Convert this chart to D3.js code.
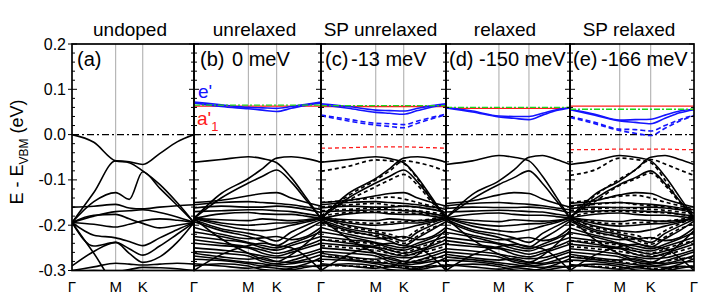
<!DOCTYPE html>
<html><head><meta charset="utf-8">
<script src="https://cdn.jsdelivr.net/npm/d3@7"></script>
<style>body{margin:0;background:#fff}svg{font-family:"Liberation Sans",Arial,sans-serif}</style>
</head><body><svg id="c" width="709" height="296"></svg>
<script>
// ---------------- data ----------------
const panelTitles = ["undoped","unrelaxed","SP unrelaxed","relaxed","SP relaxed"];
const panelTags = ["(a)","(b)","(c)","(d)","(e)"];
const panelShifts = ["","0 meV","-13 meV","-150 meV","-166 meV"];
const kLabels = ["Γ","M","K","Γ"];
const kPosM = [0.358,0.428,0.438,0.427,0.401];   // fractional position of M along each k-path
const kPosK = [0.580,0.651,0.662,0.669,0.651];   // fractional position of K
const kSamples = [0,0.5,1,1.5,2,2.33,2.67,3];   // Γ=0, M=1, K=2, Γ=3
const yTicks = [0.2,0.1,0.0,-0.1,-0.2,-0.3];

const bandsA = [
 [0.000,-0.017,-0.058,-0.062,-0.080,-0.110,-0.150,-0.194],
 [-0.194,-0.128,-0.058,-0.060,-0.066,-0.042,-0.016,0.000],
 [-0.194,-0.148,-0.128,-0.143,-0.082,-0.118,-0.156,-0.194],
 [-0.160,-0.158,-0.154,-0.162,-0.164,-0.160,-0.157,-0.155],
 [-0.194,-0.180,-0.170,-0.168,-0.166,-0.172,-0.182,-0.194],
 [-0.194,-0.178,-0.176,-0.186,-0.196,-0.206,-0.200,-0.194],
 [-0.194,-0.198,-0.204,-0.198,-0.190,-0.186,-0.189,-0.194],
 [-0.194,-0.222,-0.228,-0.236,-0.245,-0.228,-0.210,-0.194],
 [-0.194,-0.246,-0.238,-0.252,-0.266,-0.246,-0.220,-0.194],
 [-0.194,-0.262,-0.330,-0.340,-0.340,-0.330,-0.310,-0.300],
 [-0.290,-0.258,-0.238,-0.262,-0.282,-0.270,-0.238,-0.194],
 [-0.300,-0.292,-0.284,-0.286,-0.288,-0.286,-0.284,-0.286],
 [-0.306,-0.300,-0.302,-0.298,-0.293,-0.294,-0.296,-0.300]
];
const bandsUnrelaxed = [
 [-0.061,-0.055,-0.049,-0.053,-0.062,-0.095,-0.140,-0.185],
 [-0.185,-0.130,-0.097,-0.075,-0.052,-0.049,-0.053,-0.061],
 [-0.185,-0.140,-0.107,-0.092,-0.078,-0.105,-0.145,-0.185],
 [-0.150,-0.145,-0.135,-0.130,-0.128,-0.140,-0.150,-0.158],
 [-0.155,-0.150,-0.148,-0.150,-0.152,-0.155,-0.160,-0.165],
 [-0.162,-0.158,-0.160,-0.160,-0.158,-0.160,-0.165,-0.172],
 [-0.170,-0.168,-0.166,-0.166,-0.168,-0.170,-0.175,-0.180],
 [-0.185,-0.175,-0.172,-0.175,-0.176,-0.176,-0.180,-0.185],
 [-0.185,-0.188,-0.190,-0.186,-0.188,-0.190,-0.188,-0.185],
 [-0.185,-0.195,-0.200,-0.198,-0.195,-0.195,-0.190,-0.185],
 [-0.185,-0.200,-0.210,-0.212,-0.208,-0.200,-0.193,-0.185],
 [-0.188,-0.208,-0.218,-0.225,-0.235,-0.215,-0.200,-0.188],
 [-0.192,-0.212,-0.225,-0.235,-0.245,-0.228,-0.210,-0.192],
 [-0.205,-0.220,-0.230,-0.228,-0.225,-0.232,-0.225,-0.205],
 [-0.215,-0.225,-0.238,-0.245,-0.250,-0.240,-0.228,-0.215],
 [-0.225,-0.232,-0.240,-0.250,-0.255,-0.245,-0.235,-0.225],
 [-0.232,-0.240,-0.248,-0.255,-0.262,-0.255,-0.245,-0.232],
 [-0.240,-0.245,-0.250,-0.262,-0.268,-0.260,-0.250,-0.240],
 [-0.250,-0.255,-0.262,-0.268,-0.272,-0.270,-0.262,-0.252],
 [-0.258,-0.262,-0.268,-0.280,-0.285,-0.278,-0.268,-0.258],
 [-0.262,-0.270,-0.275,-0.272,-0.280,-0.282,-0.275,-0.265],
 [-0.268,-0.275,-0.282,-0.285,-0.290,-0.292,-0.285,-0.272],
 [-0.275,-0.278,-0.285,-0.290,-0.288,-0.285,-0.280,-0.278],
 [-0.285,-0.290,-0.295,-0.292,-0.295,-0.298,-0.293,-0.288],
 [-0.290,-0.285,-0.290,-0.298,-0.300,-0.295,-0.290,-0.292],
 [-0.185,-0.230,-0.262,-0.275,-0.280,-0.265,-0.240,-0.210],
 [-0.300,-0.265,-0.245,-0.240,-0.245,-0.250,-0.270,-0.300]
];
const bandsRelaxed = [
 [-0.066,-0.058,-0.046,-0.050,-0.058,-0.092,-0.138,-0.184],
 [-0.184,-0.132,-0.102,-0.078,-0.050,-0.046,-0.055,-0.066],
 [-0.184,-0.142,-0.110,-0.095,-0.080,-0.108,-0.146,-0.184],
 [-0.152,-0.146,-0.133,-0.128,-0.130,-0.142,-0.152,-0.160],
 [-0.157,-0.152,-0.150,-0.152,-0.154,-0.157,-0.162,-0.166],
 [-0.163,-0.160,-0.161,-0.161,-0.160,-0.162,-0.166,-0.173],
 [-0.171,-0.169,-0.167,-0.168,-0.170,-0.171,-0.176,-0.180],
 [-0.184,-0.176,-0.173,-0.176,-0.178,-0.178,-0.181,-0.184],
 [-0.184,-0.189,-0.192,-0.188,-0.190,-0.191,-0.189,-0.184],
 [-0.184,-0.196,-0.202,-0.200,-0.197,-0.196,-0.191,-0.184],
 [-0.184,-0.202,-0.212,-0.215,-0.210,-0.202,-0.194,-0.184],
 [-0.187,-0.210,-0.220,-0.228,-0.238,-0.218,-0.202,-0.187],
 [-0.191,-0.214,-0.227,-0.238,-0.248,-0.230,-0.212,-0.191],
 [-0.206,-0.222,-0.232,-0.230,-0.227,-0.234,-0.227,-0.206],
 [-0.216,-0.226,-0.240,-0.246,-0.252,-0.242,-0.230,-0.216],
 [-0.227,-0.234,-0.242,-0.252,-0.257,-0.247,-0.237,-0.227],
 [-0.234,-0.242,-0.250,-0.257,-0.264,-0.257,-0.247,-0.234],
 [-0.242,-0.247,-0.252,-0.264,-0.270,-0.262,-0.252,-0.242],
 [-0.252,-0.257,-0.264,-0.270,-0.274,-0.272,-0.264,-0.254],
 [-0.259,-0.264,-0.270,-0.281,-0.286,-0.279,-0.269,-0.259],
 [-0.264,-0.272,-0.277,-0.274,-0.282,-0.284,-0.277,-0.267],
 [-0.270,-0.276,-0.283,-0.287,-0.291,-0.293,-0.286,-0.274],
 [-0.277,-0.280,-0.287,-0.292,-0.290,-0.287,-0.282,-0.280],
 [-0.287,-0.292,-0.297,-0.294,-0.297,-0.300,-0.295,-0.290],
 [-0.291,-0.286,-0.291,-0.299,-0.301,-0.296,-0.291,-0.293],
 [-0.184,-0.232,-0.264,-0.277,-0.282,-0.267,-0.242,-0.212],
 [-0.300,-0.266,-0.247,-0.242,-0.247,-0.252,-0.272,-0.300]
];
const dashedSPUnrelaxed = [
 [-0.081,-0.070,-0.056,-0.058,-0.064,-0.098,-0.145,-0.180],
 [-0.180,-0.135,-0.100,-0.080,-0.058,-0.062,-0.070,-0.081],
 [-0.180,-0.145,-0.115,-0.100,-0.088,-0.112,-0.150,-0.180],
 [-0.150,-0.145,-0.140,-0.138,-0.142,-0.150,-0.158,-0.165],
 [-0.160,-0.155,-0.152,-0.156,-0.158,-0.160,-0.165,-0.170],
 [-0.168,-0.165,-0.162,-0.165,-0.166,-0.168,-0.172,-0.176],
 [-0.180,-0.172,-0.170,-0.172,-0.172,-0.174,-0.176,-0.180],
 [-0.180,-0.192,-0.196,-0.194,-0.192,-0.190,-0.186,-0.180],
 [-0.182,-0.203,-0.214,-0.220,-0.228,-0.210,-0.195,-0.182],
 [-0.195,-0.215,-0.222,-0.230,-0.240,-0.224,-0.206,-0.195],
 [-0.232,-0.236,-0.243,-0.255,-0.260,-0.250,-0.240,-0.232],
 [-0.245,-0.250,-0.256,-0.262,-0.266,-0.263,-0.255,-0.246],
 [-0.268,-0.272,-0.278,-0.283,-0.282,-0.278,-0.272,-0.270],
 [-0.288,-0.290,-0.292,-0.290,-0.293,-0.295,-0.290,-0.288]
];
const dashedSPRelaxed = [
 [-0.090,-0.078,-0.052,-0.055,-0.062,-0.100,-0.148,-0.182],
 [-0.182,-0.135,-0.098,-0.078,-0.055,-0.065,-0.078,-0.090],
 [-0.182,-0.148,-0.112,-0.098,-0.085,-0.112,-0.150,-0.182],
 [-0.150,-0.144,-0.136,-0.134,-0.140,-0.149,-0.157,-0.164],
 [-0.159,-0.154,-0.150,-0.154,-0.157,-0.159,-0.164,-0.170],
 [-0.167,-0.164,-0.161,-0.163,-0.165,-0.167,-0.171,-0.176],
 [-0.182,-0.171,-0.169,-0.171,-0.171,-0.173,-0.176,-0.182],
 [-0.182,-0.193,-0.197,-0.195,-0.193,-0.191,-0.187,-0.182],
 [-0.184,-0.205,-0.216,-0.222,-0.230,-0.212,-0.197,-0.184],
 [-0.197,-0.217,-0.224,-0.232,-0.242,-0.226,-0.208,-0.197],
 [-0.234,-0.238,-0.245,-0.257,-0.262,-0.252,-0.242,-0.234],
 [-0.247,-0.252,-0.258,-0.264,-0.268,-0.265,-0.257,-0.248],
 [-0.270,-0.274,-0.280,-0.285,-0.284,-0.280,-0.274,-0.272],
 [-0.289,-0.291,-0.294,-0.292,-0.295,-0.297,-0.292,-0.290]
];
// e' (blue) and a'1 (red) defect levels, panels b..e
const blueSolidB = [[0.072,0.066,0.060,0.059,0.058,0.062,0.067,0.072],[0.070,0.062,0.057,0.054,0.051,0.058,0.065,0.070]];
const blueSolidC = [[0.068,0.062,0.054,0.053,0.052,0.058,0.064,0.068],[0.066,0.058,0.049,0.047,0.045,0.053,0.061,0.066]];
const blueSolidD = [[0.060,0.052,0.041,0.040,0.040,0.047,0.055,0.060],[0.059,0.050,0.039,0.036,0.033,0.043,0.053,0.059]];
const blueSolidE = [[0.056,0.045,0.032,0.033,0.034,0.043,0.052,0.056],[0.055,0.043,0.030,0.027,0.024,0.036,0.048,0.055]];
const blueDashedC = [[0.043,0.034,0.025,0.024,0.022,0.030,0.038,0.045],[0.042,0.030,0.021,0.018,0.015,0.025,0.035,0.044]];
const blueDashedE = [[0.040,0.027,0.012,0.011,0.008,0.020,0.033,0.043],[0.038,0.024,0.009,0.003,-0.002,0.014,0.030,0.042]];
const redSolidLevel = [0.063,0.062,0.058,0.063];   // panels b..e
const greenLevel = [0.065,0.064,0.060,0.056];      // panels b..e
const redDashedC = [-0.030,-0.029,-0.027,-0.027,-0.027,-0.028,-0.029,-0.030];
const redDashedE = [-0.033,-0.033,-0.032,-0.032,-0.032,-0.032,-0.033,-0.033];

// ---------------- drawing ----------------
const svg = d3.select("#c");
const edges = [72,194,321,446,570,694];
const tagDx = [5,6,4,3,3], shiftDx = [0,38,30,33,31];
const yTop = 44, yBot = 270.5;
const y = d3.scaleLinear().domain([-0.3,0.2]).range([yBot, yTop]);
const BLUE = "#1414ff", RED = "#ff1a1a", GREEN = "#1ed41e";

const solidSets = [bandsA, bandsUnrelaxed, bandsUnrelaxed, bandsRelaxed, bandsRelaxed];
const dashedSets = [null, null, dashedSPUnrelaxed, null, dashedSPRelaxed];
const blueSolidSets = [null, blueSolidB, blueSolidC, blueSolidD, blueSolidE];
const blueDashedSets = [null, null, blueDashedC, null, blueDashedE];
const redDashedSets = [null, null, redDashedC, null, redDashedE];

const defs = svg.append("defs");

for (let p = 0; p < 5; p++) {
  const x0 = edges[p], x1 = edges[p+1], w = x1 - x0;
  const x = d3.scaleLinear().domain([0,1,2,3]).range([x0, x0 + w*kPosM[p], x0 + w*kPosK[p], x1]);
  const g = svg.append("g");
  defs.append("clipPath").attr("id","clip"+p).append("rect")
    .attr("x",x0).attr("y",yTop).attr("width",w).attr("height",yBot-yTop);
  const plot = g.append("g").attr("clip-path",`url(#clip${p})`);

  [1,2].forEach(k => plot.append("line").attr("x1",x(k)).attr("x2",x(k)).attr("y1",yTop).attr("y2",yBot)
      .attr("stroke","#a8a8a8").attr("stroke-width",1));

  const line = d3.line().x((d,i)=>x(kSamples[i])).y(d=>y(d)).curve(d3.curveMonotoneX);
  const flat = v => kSamples.map(()=>v);

  plot.append("line").attr("x1",x0).attr("x2",x1).attr("y1",y(0)).attr("y2",y(0))
    .attr("stroke","#000").attr("stroke-width",1.2).attr("stroke-dasharray","7,3,2,3");

  if (dashedSets[p]) plot.selectAll(null).data(dashedSets[p]).join("path")
    .attr("d",line).attr("fill","none").attr("stroke","#000").attr("stroke-width",1.7).attr("stroke-dasharray","4,3");
  plot.selectAll(null).data(solidSets[p]).join("path")
    .attr("d",line).attr("fill","none").attr("stroke","#000").attr("stroke-width",1.6);

  if (p > 0) {
    if (redDashedSets[p]) plot.append("path").attr("d",line(redDashedSets[p])).attr("fill","none")
      .attr("stroke",RED).attr("stroke-width",1.3).attr("stroke-dasharray","4,3");
    if (blueDashedSets[p]) plot.selectAll(null).data(blueDashedSets[p]).join("path").attr("d",line)
      .attr("fill","none").attr("stroke",BLUE).attr("stroke-width",1.6).attr("stroke-dasharray","5,3");
    plot.append("path").attr("d",line(flat(redSolidLevel[p-1]))).attr("fill","none").attr("stroke",RED).attr("stroke-width",1.3);
    plot.selectAll(null).data(blueSolidSets[p]).join("path").attr("d",line)
      .attr("fill","none").attr("stroke",BLUE).attr("stroke-width",1.6);
    plot.append("path").attr("d",line(flat(greenLevel[p-1]))).attr("fill","none").attr("stroke",GREEN)
      .attr("stroke-width",1.3).attr("stroke-dasharray","6,2,2,2");
  }

  g.append("rect").attr("x",x0).attr("y",yTop).attr("width",w).attr("height",yBot-yTop)
    .attr("fill","none").attr("stroke","#000").attr("stroke-width",1.7);

  const minor = d3.range(-0.3,0.2001,0.02);
  minor.forEach(v => {
    const major = Math.abs(Math.round(v*10) - v*10) < 1e-6;
    const len = major ? 5 : 3;
    g.append("line").attr("x1",x0).attr("x2",x0+len).attr("y1",y(v)).attr("y2",y(v)).attr("stroke","#000").attr("stroke-width",1);
    g.append("line").attr("x1",x1).attr("x2",x1-len).attr("y1",y(v)).attr("y2",y(v)).attr("stroke","#000").attr("stroke-width",1);
  });

  svg.append("text").attr("x",(x0+x1)/2 - 3).attr("y",36).attr("text-anchor","middle")
    .attr("font-size",19).text(panelTitles[p]);
  svg.append("text").attr("x",x0+tagDx[p]).attr("y",66).attr("font-size",20).text(panelTags[p]);
  if (panelShifts[p]) svg.append("text").attr("x",x0+shiftDx[p]).attr("y",66).attr("font-size",20).text(panelShifts[p]);

  const kl = p === 0 ? [0,1,2,3] : [1,2,3];
  kl.forEach(k => svg.append("text").attr("x",x(k)).attr("y",292).attr("text-anchor","middle")
    .attr("font-size",15).text(kLabels[k]));
}

yTicks.forEach(v => {
  svg.append("line").attr("x1",68).attr("x2",72).attr("y1",y(v)).attr("y2",y(v)).attr("stroke","#000").attr("stroke-width",1);
  svg.append("text").attr("x",66).attr("y",y(v)+5.5).attr("text-anchor","end").attr("font-size",16)
    .text(d3.format(".1f")(v).replace("−","-"));
});

const yt = svg.append("text").attr("transform","translate(23,152) rotate(-90)").attr("text-anchor","middle").attr("font-size",18);
yt.append("tspan").text("E - E");
yt.append("tspan").attr("font-size",12).attr("dy",5).text("VBM");
yt.append("tspan").attr("dy",-5).text(" (eV)");

svg.append("text").attr("x",198).attr("y",98).attr("fill",BLUE).attr("font-size",19).text("e'");
const a1 = svg.append("text").attr("x",197).attr("y",125).attr("fill",RED).attr("font-size",19);
a1.append("tspan").text("a'");
a1.append("tspan").attr("font-size",13).attr("dy",6).text("1");
</script></body></html>
